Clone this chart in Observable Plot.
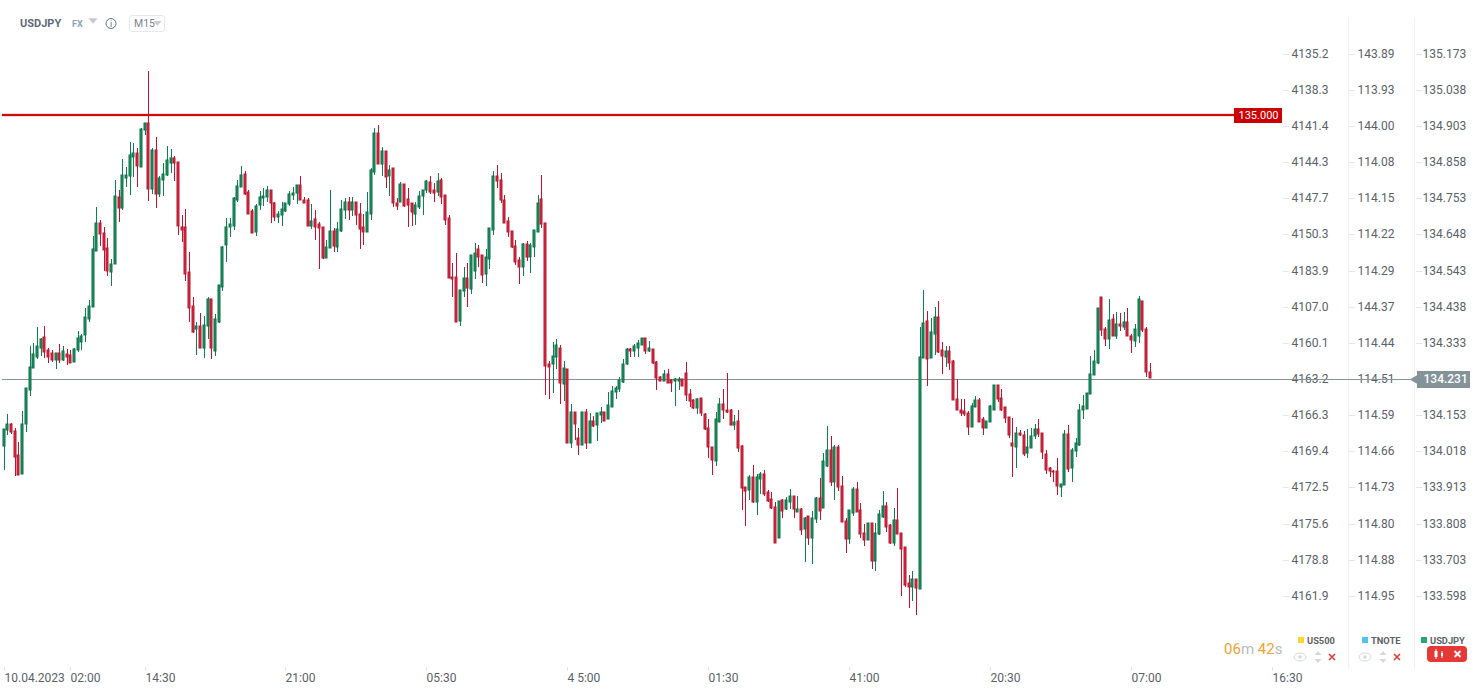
<!DOCTYPE html>
<html>
<head>
<meta charset="utf-8">
<style>html,body{margin:0;padding:0;background:#fff;overflow:hidden}svg{display:block}</style>
<script src="https://cdn.jsdelivr.net/npm/d3@7"></script>
<script src="https://cdn.jsdelivr.net/npm/@observablehq/plot@0.6"></script>
</head>
<body>
<div id="chart"></div>
<script>
const directions = ("GGRRRGGGGG"+"GRRRGRGRRG"+"GGGGGGRRRG"+"GRGGGGRGGR"+"GRGGGGRRRR"+"RRGRGGRGGG"+"GGGGGRRRGG"+"GGRRGGGGGG"
 +"RRRGRRRGGR"+"GGGRGRRRGG"+"GRGRGRRGRR"+"RGGGGRRGRR"+"RRRGGRGGRR"+"GGGRRRRRRR"+"GRGGGRRRGG"+"RGRGRRGRGR"
 +"GGRGGGGGGR"+"GGGRGRRRGR"+"RGGRRRRGRR"+"RRGGRRRGRR"+"RGRGGRRRRG"+"RGGRGRGRGG"+"RGGRGRRRGG"+"RRRGRGGGRR"
 +"GRRRRGRGGR"+"GGRRGRRRRR"+"RGGRRGGGRR"+"RRRGRRGGGR"+"RRRRRGGRGG"+"GGGGGGRRGR"+"GRGRRGGRRR").split("");
const highs = [134.083,134.128,134.101,134.086,134.045,134.136,134.203,134.326,134.334,134.382,
134.349,134.386,134.322,134.314,134.305,134.331,134.326,134.319,134.314,134.322,
134.370,134.360,134.437,134.460,134.646,134.732,134.694,134.675,134.643,134.579,
134.810,134.782,134.872,134.849,134.921,134.918,134.903,134.962,134.976,135.129,
134.903,134.935,134.823,134.860,134.909,134.900,134.880,134.862,134.709,134.726,
134.602,134.468,134.395,134.424,134.413,134.468,134.465,134.419,134.503,134.617,
134.699,134.699,134.760,134.810,134.851,134.836,134.783,134.725,134.740,134.778,
134.787,134.792,134.781,134.748,134.720,134.748,134.743,134.778,134.789,134.795,
134.822,134.760,134.757,134.740,134.722,134.687,134.675,134.637,134.783,134.671,
134.687,134.751,134.757,134.760,134.760,134.748,134.745,134.713,134.775,134.845,
134.962,134.971,134.906,134.894,134.856,134.845,134.757,134.804,134.798,134.786,
134.743,134.748,134.778,134.783,134.810,134.822,134.801,134.830,134.816,134.766,
134.708,134.570,134.597,134.489,134.556,134.570,134.591,134.626,134.620,134.591,
134.608,134.670,134.837,134.856,134.830,134.766,134.702,134.661,134.635,134.585,
134.626,134.632,134.626,134.664,134.766,134.824,134.684,134.284,134.337,134.348,
134.328,134.282,134.258,134.157,134.135,134.086,134.135,134.144,134.130,134.121,
134.130,134.147,134.133,134.192,134.209,134.209,134.235,134.288,134.322,134.322,
134.332,134.343,134.349,134.349,134.340,134.319,134.282,134.239,134.255,134.258,
134.229,134.232,134.235,134.229,134.279,134.200,134.171,134.174,134.174,134.130,
134.112,134.033,134.133,134.176,134.200,134.247,134.144,134.124,134.141,134.038,
133.914,133.949,133.978,133.952,133.960,133.966,133.906,133.899,133.870,133.873,
133.879,133.887,133.908,133.890,133.888,133.855,133.828,133.829,133.844,133.887,
133.940,134.013,134.092,134.063,134.039,134.039,133.947,133.826,133.847,133.914,
133.929,133.867,133.807,133.809,133.811,133.809,133.847,133.903,133.870,133.806,
133.855,133.911,133.782,133.739,133.657,133.670,133.648,134.382,134.490,134.430,
134.408,134.439,134.457,134.337,134.327,134.325,134.285,134.229,134.171,134.171,
134.136,134.159,134.181,134.174,134.118,134.109,134.153,134.214,134.212,134.200,
134.147,134.118,134.115,134.089,134.080,134.077,134.083,134.086,134.098,134.112,
134.074,134.022,133.972,133.966,134.001,133.924,134.080,134.095,134.028,134.057,
134.156,134.182,134.188,134.296,134.314,134.436,134.468,134.381,134.465,134.419,
134.425,134.423,134.426,134.436,134.360,134.390,134.472,134.457,134.381,134.276];
const bodyTops = [134.083,134.098,134.098,134.077,134.007,134.100,134.203,134.264,134.302,134.325,
134.346,134.354,134.314,134.305,134.305,134.305,134.311,134.302,134.299,134.319,
134.349,134.357,134.410,134.442,134.608,134.684,134.684,134.655,134.611,134.567,
134.763,134.760,134.824,134.824,134.883,134.889,134.889,134.959,134.976,134.976,
134.897,134.897,134.816,134.827,134.868,134.874,134.874,134.862,134.673,134.673,
134.541,134.442,134.386,134.386,134.389,134.465,134.465,134.404,134.503,134.614,
134.673,134.681,134.757,134.792,134.824,134.827,134.775,134.719,134.734,134.760,
134.764,134.781,134.781,134.745,134.713,134.725,134.743,134.769,134.772,134.795,
134.795,134.751,134.751,134.690,134.696,134.681,134.675,134.614,134.661,134.661,
134.667,134.725,134.748,134.748,134.748,134.748,134.713,134.673,134.716,134.839,
134.947,134.947,134.894,134.894,134.839,134.845,134.743,134.798,134.798,134.754,
134.743,134.737,134.763,134.783,134.807,134.804,134.781,134.807,134.810,134.766,
134.699,134.529,134.529,134.489,134.524,134.524,134.591,134.597,134.608,134.591,
134.585,134.670,134.821,134.821,134.810,134.751,134.690,134.661,134.617,134.576,
134.623,134.623,134.620,134.664,134.745,134.754,134.684,134.273,134.296,134.328,
134.322,134.261,134.258,134.135,134.135,134.057,134.135,134.135,134.109,134.109,
134.130,134.133,134.133,134.153,134.194,134.203,134.226,134.273,134.317,134.319,
134.325,134.334,134.349,134.349,134.322,134.319,134.279,134.235,134.244,134.244,
134.226,134.229,134.229,134.229,134.247,134.185,134.168,134.171,134.174,134.127,
134.086,134.033,134.112,134.156,134.156,134.141,134.141,134.106,134.109,134.036,
133.914,133.943,133.943,133.943,133.952,133.952,133.899,133.879,133.858,133.873,
133.877,133.876,133.890,133.890,133.852,133.852,133.826,133.829,133.826,133.882,
133.882,133.990,134.022,134.022,134.033,134.033,133.917,133.815,133.847,133.908,
133.908,133.847,133.782,133.809,133.809,133.782,133.835,133.861,133.861,133.803,
133.820,133.820,133.782,133.739,133.634,133.648,133.648,134.293,134.393,134.398,
134.366,134.410,134.410,134.314,134.311,134.311,134.282,134.171,134.139,134.136,
134.130,134.150,134.168,134.168,134.112,134.109,134.150,134.212,134.212,134.174,
134.147,134.118,134.042,134.074,134.074,134.066,134.033,134.063,134.083,134.083,
134.074,134.010,133.969,133.963,133.963,133.923,134.069,134.069,134.022,134.042,
134.141,134.150,134.188,134.244,134.282,134.436,134.468,134.375,134.401,134.404,
134.390,134.390,134.395,134.395,134.355,134.375,134.463,134.457,134.375,134.252];
const bodyBottoms = [134.035,134.082,134.076,134.003,133.951,133.954,134.098,134.197,134.261,134.295,
134.321,134.310,134.295,134.286,134.287,134.286,134.286,134.295,134.278,134.280,
134.316,134.339,134.359,134.406,134.439,134.605,134.652,134.607,134.546,134.543,
134.565,134.730,134.730,134.818,134.823,134.879,134.853,134.850,134.956,134.785,
134.785,134.771,134.771,134.810,134.824,134.861,134.859,134.678,134.666,134.537,
134.438,134.368,134.377,134.321,134.321,134.386,134.321,134.313,134.397,134.499,
134.620,134.673,134.678,134.751,134.789,134.771,134.713,134.655,134.658,134.737,
134.757,134.760,134.745,134.702,134.702,134.710,134.719,134.740,134.766,134.772,
134.753,134.745,134.677,134.677,134.674,134.672,134.584,134.584,134.613,134.619,
134.616,134.663,134.723,134.723,134.723,134.709,134.669,134.660,134.660,134.713,
134.835,134.858,134.858,134.820,134.823,134.745,134.736,134.747,134.736,134.739,
134.716,134.712,134.733,134.765,134.782,134.777,134.774,134.777,134.762,134.695,
134.526,134.523,134.397,134.400,134.488,134.497,134.493,134.546,134.587,134.534,
134.537,134.581,134.666,134.807,134.751,134.686,134.660,134.616,134.572,134.557,
134.558,134.587,134.587,134.616,134.660,134.683,134.269,134.266,134.275,134.293,
134.219,134.216,134.044,134.044,134.100,134.038,134.038,134.044,134.044,134.093,
134.097,134.126,134.108,134.114,134.149,134.191,134.200,134.220,134.273,134.311,
134.311,134.322,134.328,134.312,134.313,134.276,134.232,134.223,134.223,134.219,
134.219,134.223,134.223,134.211,134.184,134.165,134.146,134.146,134.132,134.083,
134.032,133.993,133.992,134.106,134.141,134.135,134.097,134.097,134.030,133.911,
133.902,133.905,133.870,133.870,133.939,133.896,133.875,133.855,133.752,133.767,
133.846,133.850,133.872,133.852,133.843,133.790,133.793,133.767,133.767,133.822,
133.846,133.855,133.975,133.930,133.930,133.914,133.814,133.764,133.764,133.840,
133.843,133.779,133.761,133.759,133.700,133.700,133.779,133.828,133.799,133.752,
133.752,133.779,133.735,133.630,133.624,133.624,133.621,133.618,134.292,134.289,
134.292,134.362,134.310,134.298,134.295,134.278,134.168,134.139,134.132,134.127,
134.091,134.089,134.147,134.106,134.086,134.086,134.106,134.141,134.171,134.141,
134.115,134.068,134.035,134.032,134.067,134.012,134.015,134.028,134.063,134.071,
134.016,133.965,133.963,133.958,133.919,133.916,133.920,133.968,133.969,134.021,
134.038,134.139,134.144,134.185,134.241,134.276,134.372,134.346,134.346,134.357,
134.357,134.384,134.381,134.355,134.343,134.340,134.357,134.372,134.251,134.232];
const lows = [133.964,134.066,134.070,133.948,133.951,133.954,134.076,134.181,134.261,134.289,
134.297,134.292,134.278,134.280,134.260,134.278,134.283,134.272,134.278,134.280,
134.309,134.315,134.338,134.397,134.439,134.605,134.618,134.546,134.531,134.501,
134.565,134.688,134.723,134.790,134.767,134.820,134.790,134.850,134.941,134.749,
134.770,134.729,134.761,134.764,134.823,134.830,134.808,134.650,134.630,134.516,
134.396,134.365,134.300,134.321,134.291,134.347,134.288,134.298,134.394,134.488,
134.571,134.645,134.665,134.748,134.789,134.768,134.713,134.655,134.647,134.723,
134.735,134.747,134.684,134.690,134.685,134.676,134.716,134.734,134.752,134.741,
134.753,134.745,134.677,134.669,134.636,134.551,134.581,134.584,134.613,134.601,
134.601,134.659,134.697,134.694,134.706,134.679,134.609,134.621,134.660,134.694,
134.825,134.858,134.822,134.787,134.764,134.731,134.723,134.747,134.731,134.673,
134.676,134.679,134.727,134.709,134.774,134.771,134.746,134.764,134.741,134.679,
134.526,134.469,134.397,134.384,134.469,134.440,134.478,134.522,134.557,134.510,
134.501,134.550,134.650,134.787,134.745,134.686,134.644,134.612,134.563,134.507,
134.530,134.574,134.539,134.586,134.660,134.671,134.183,134.171,134.189,134.260,
134.157,134.166,134.044,134.028,134.053,134.008,134.038,134.025,134.044,134.091,
134.049,134.103,134.108,134.114,134.149,134.172,134.192,134.217,134.271,134.294,
134.294,134.294,134.328,134.303,134.309,134.274,134.198,134.223,134.223,134.219,
134.192,134.151,134.198,134.211,134.167,134.147,134.144,134.129,134.122,134.081,
134.001,133.950,133.976,134.105,134.114,134.132,134.096,134.081,134.017,133.848,
133.801,133.877,133.869,133.833,133.895,133.890,133.871,133.851,133.752,133.767,
133.825,133.848,133.850,133.824,133.842,133.776,133.697,133.745,133.691,133.811,
133.819,133.855,133.974,133.918,133.877,133.904,133.814,133.722,133.748,133.831,
133.843,133.766,133.744,133.759,133.676,133.671,133.776,133.826,133.784,133.749,
133.744,133.779,133.597,133.624,133.562,133.582,133.541,133.618,134.292,134.210,
134.292,134.301,134.307,134.245,134.265,134.257,134.168,134.139,134.122,134.122,
134.068,134.089,134.147,134.106,134.067,134.086,134.106,134.139,134.163,134.138,
134.101,134.059,133.944,133.970,134.063,134.006,134.000,134.028,134.056,134.060,
133.997,133.954,133.945,133.930,133.892,133.887,133.920,133.960,133.930,134.003,
134.036,134.113,134.144,134.185,134.241,134.273,134.356,134.326,134.319,134.357,
134.347,134.370,134.374,134.355,134.307,134.324,134.336,134.366,134.236,134.232];

const tickPrices = [135.179,135.074,134.968,134.863,134.757,134.652,134.546,134.441,134.336,134.230,134.125,134.019,133.914,133.808,133.703,133.598];
const us500Labels = ["4135.2","4138.3","4141.4","4144.3","4147.7","4150.3","4183.9","4107.0","4160.1","4163.2","4166.3","4169.4","4172.5","4175.6","4178.8","4161.9"];
const tnoteLabels = ["143.89","113.93","144.00","114.08","114.15","114.22","114.29","144.37","114.44","114.51","114.59","114.66","114.73","114.80","114.88","114.95"];
const usdjpyLabels = ["135.173","135.038","134.903","134.858","134.753","134.648","134.543","134.438","134.333","","134.153","134.018","133.913","133.808","133.703","133.598"];
const timeTicks = [0,18,38,76,114,152,190,228,266,304,342];
const timeLabels = ["10.04.2023","02:00","14:30","21:00","05:30","4 5:00","01:30","41:00","20:30","07:00","16:30"];
const resistanceLevel = 135.000;
const lastPrice = 134.231;

const W = 1482, H = 694;
const STEP = 3.709, X0 = 3.6;
const col = px => (px - X0) / STEP;
const idx = d3.range(highs.length);
const isUp = i => directions[i] === "G";
const isDown = i => directions[i] === "R";
const FONT = "Roboto, sans-serif";

const priceAxis = (labels, dx, padding) => {
  const m = new Map(tickPrices.map((p, i) => [p, labels[i]]));
  return Plot.axisY({anchor: "right", ticks: tickPrices, tickFormat: d => m.get(d), label: null,
    dx, tickSize: 6, tickPadding: padding, stroke: "#e4e6e9", fill: "#5a6268", fontSize: 12});
};

const halfBody = 1 / STEP;
const candleMarks = (filter, wick, fill, edge) => [
  Plot.ruleX(idx, {filter, x: i => i, y1: i => lows[i], y2: i => highs[i], stroke: wick, strokeWidth: 1}),
  Plot.rect(idx, {filter, x1: i => i - halfBody, x2: i => i + halfBody, y1: i => bodyBottoms[i], y2: i => bodyTops[i],
    fill, stroke: edge, strokeWidth: 1})
];

function chrome() {
  const g = d3.create("svg:g").attr("font-family", FONT).attr("text-anchor", "start");
  const sep = (x, y1, y2) => g.append("line").attr("x1", x).attr("x2", x).attr("y1", y1).attr("y2", y2).attr("stroke", "#eef0f2");
  sep(1348.5, 18, 668); sep(1414.5, 18, 668);
  g.append("text").attr("x", 20).attr("y", 27).attr("font-size", 11).attr("font-weight", 700).attr("fill", "#5f6b75").text("USDJPY");
  g.append("text").attr("x", 72).attr("y", 27).attr("font-size", 9).attr("font-weight", 700).attr("fill", "#8ba3b5").text("FX");
  const tri = (x, y, s, c) => g.append("path").attr("d", `M${x - s},${y - s * 0.6}L${x + s},${y - s * 0.6}L${x},${y + s * 0.6}Z`).attr("fill", c);
  tri(93, 21, 4.5, "#c4c9ce");
  g.append("circle").attr("cx", 111).attr("cy", 23.5).attr("r", 5).attr("fill", "none").attr("stroke", "#66727c");
  g.append("text").attr("x", 111).attr("y", 27).attr("font-size", 9).attr("text-anchor", "middle").attr("fill", "#66727c").text("i");
  g.append("rect").attr("x", 129.5).attr("y", 15.5).attr("width", 35).attr("height", 16).attr("rx", 2.5).attr("fill", "#fff").attr("stroke", "#e6e8eb");
  g.append("text").attr("x", 134).attr("y", 27).attr("font-size", 10.5).attr("fill", "#7a848c").text("M15");
  tri(157.5, 23.5, 4, "#c8ccd0");

  const t = g.append("text").attr("x", 1224).attr("y", 654).attr("font-size", 15);
  t.append("tspan").attr("fill", "#f5a033").text("06");
  t.append("tspan").attr("fill", "#b5bbc0").text("m ");
  t.append("tspan").attr("fill", "#f5a033").text("42");
  t.append("tspan").attr("fill", "#b5bbc0").text("s");

  [[1298, "#fdd835", "US500"], [1362, "#4fc3f7", "TNOTE"], [1421, "#26a96c", "USDJPY"]].forEach(([x, c, name]) => {
    g.append("rect").attr("x", x).attr("y", 637).attr("width", 6).attr("height", 6).attr("fill", c);
    g.append("text").attr("x", x + 9).attr("y", 644).attr("font-size", 9.3).attr("font-weight", 700).attr("fill", "#5a6268").text(name);
  });
  const cross = (x, y, r, c, w) => g.append("path").attr("d", `M${x - r},${y - r}L${x + r},${y + r}M${x + r},${y - r}L${x - r},${y + r}`).attr("stroke", c).attr("stroke-width", w);
  [[1300, 1318, 1332], [1365, 1383, 1397]].forEach(([e, a, c]) => {
    g.append("ellipse").attr("cx", e).attr("cy", 657).attr("rx", 6).attr("ry", 4).attr("fill", "none").attr("stroke", "#d5d9dc");
    g.append("circle").attr("cx", e).attr("cy", 657).attr("r", 1.8).attr("fill", "#d5d9dc");
    g.append("path").attr("d", `M${a - 3.5},655L${a + 3.5},655L${a},651ZM${a - 3.5},659L${a + 3.5},659L${a},663Z`).attr("fill", "#d5d9dc");
    cross(c, 657, 3, "#e53935", 1.6);
  });
  g.append("rect").attr("x", 1427).attr("y", 646).attr("width", 40).attr("height", 16).attr("rx", 4).attr("fill", "#e53935");
  g.append("path").attr("d", "M1436,649V659M1442,651V658").attr("stroke", "#fff").attr("stroke-width", 1);
  g.append("rect").attr("x", 1434.5).attr("y", 651).attr("width", 3).attr("height", 6).attr("fill", "#fff");
  g.append("rect").attr("x", 1441).attr("y", 653).attr("width", 2).attr("height", 3).attr("fill", "#fff");
  cross(1457.5, 654, 3, "#fff", 1.8);
  return g.node();
}

const chart = Plot.plot({
  width: W, height: H,
  marginTop: 0, marginRight: 0, marginBottom: 0, marginLeft: 0,
  style: {fontFamily: FONT, fontSize: "12px", background: "#fff", color: "#5a6268"},
  x: {type: "linear", domain: [-X0 / STEP, (W - X0) / STEP], axis: null, round: true},
  y: {type: "linear", domain: [133.311, 135.336], axis: null, round: true},
  marks: [
    chrome,
    priceAxis(us500Labels, -200, 3),
    priceAxis(tnoteLabels, -134, 3),
    priceAxis(usdjpyLabels, -67, 1),
    Plot.axisX({anchor: "bottom", ticks: timeTicks, tickFormat: d => timeLabels[timeTicks.indexOf(d)],
      label: null, dy: -27, tickSize: 4, tickPadding: 2, textAnchor: "start", stroke: "#e4e6e9", fill: "#5a6268", fontSize: 12}),
    Plot.ruleY([lastPrice], {x1: col(2), x2: col(1410), stroke: "#87959b", strokeWidth: 1}),
    Plot.ruleY([resistanceLevel], {x1: col(2), x2: col(1234), dy: -0.5, stroke: "#f5b5b5", strokeWidth: 3}),
    Plot.ruleY([resistanceLevel], {x1: col(2), x2: col(1234), dy: -0.5, stroke: "#d40a0a", strokeWidth: 2}),
    ...candleMarks(isUp, "#0b8050", "#17995f", "#0f6f48"),
    ...candleMarks(isDown, "#c8102e", "#e2263f", "#b01a30"),
    Plot.ruleY([resistanceLevel], {x1: col(1234), x2: col(1282), stroke: "#cc0000", strokeWidth: 15}),
    Plot.text([resistanceLevel], {y: d => d, text: d => d.toFixed(3), frameAnchor: "left", dx: 1258, textAnchor: "middle", fill: "#fff", fontSize: 11}),
    Plot.ruleY([lastPrice], {x1: col(1417), x2: col(1470), stroke: "#84929a", strokeWidth: 17}),
    Plot.dot([lastPrice], {y: d => d, frameAnchor: "left", dx: 1419, symbol: "triangle", r: 6.3, rotate: -90, fill: "#84929a"}),
    Plot.text([lastPrice], {y: d => d, text: d => d.toFixed(3), frameAnchor: "left", dx: 1423, textAnchor: "start", fill: "#fff", fontSize: 12, fontWeight: 500})
  ]
});
document.getElementById("chart").appendChild(chart);
</script>
</body>
</html>
